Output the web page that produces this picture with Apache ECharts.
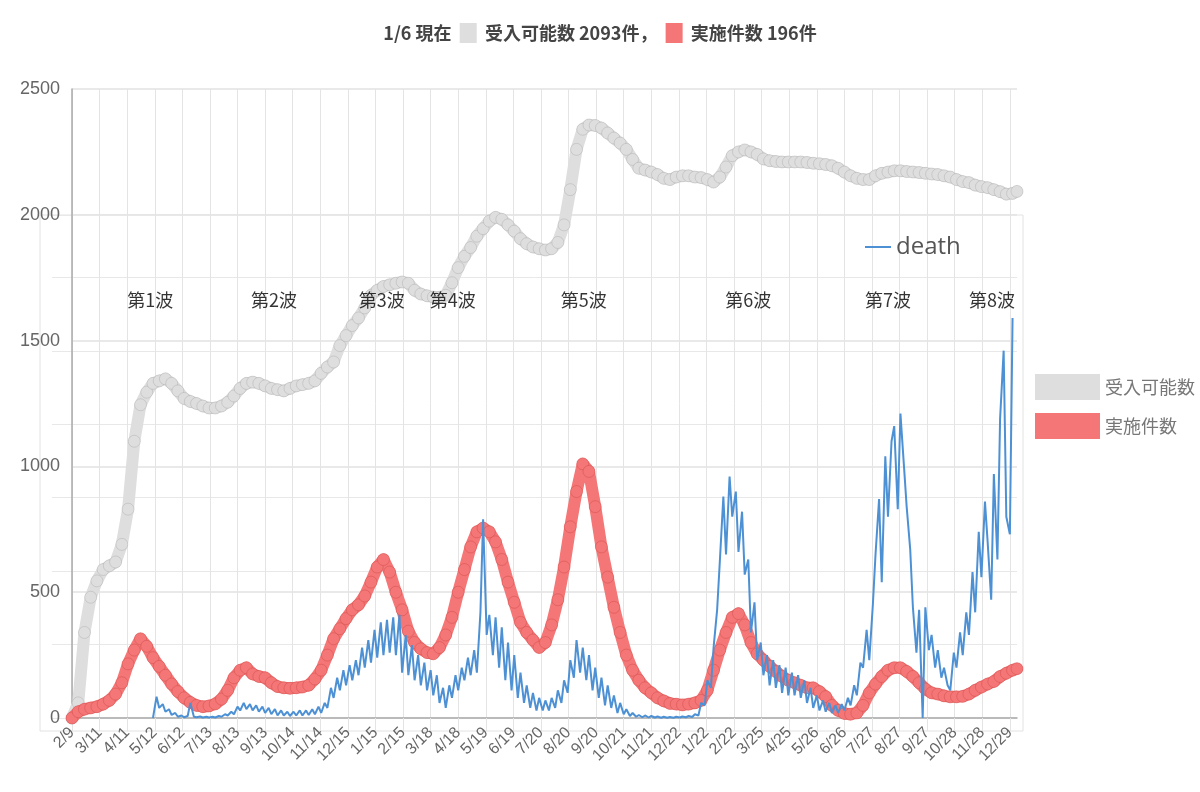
<!DOCTYPE html>
<html>
<head>
<meta charset="utf-8">
<script src="https://cdn.jsdelivr.net/npm/echarts@6/dist/echarts.min.js"></script>
<style>
  html, body { margin: 0; padding: 0; background: #fff; }
  #statistics { width: 1200px; height: 792px; }
</style>
</head>
<body>
<div id="statistics"></div>
<script>
// daily categories 2020/2/9 .. 2023/1/6
var dates = [];
var start = Date.UTC(2020, 1, 9);
for (var i = 0; i < 1063; i++) {
    var d = new Date(start + i * 86400000);
    dates.push((d.getUTCMonth() + 1) + '/' + d.getUTCDate());
}

// weekly samples (day index) for 受入可能数 / 実施件数
var weekDays = [];
for (var w = 0; w <= 1057; w += 7) weekDays.push(w);
weekDays.push(1062);

var ukeire = [
    0, 60, 340, 480, 545, 590, 605, 620, 690, 830,
    1100, 1245, 1295, 1330, 1340, 1348, 1330, 1300, 1270, 1258,
    1250, 1240, 1232, 1232, 1240, 1255, 1280, 1310, 1330, 1335,
    1330, 1320, 1310, 1305, 1300, 1310, 1320, 1325, 1330, 1340,
    1370, 1395, 1415, 1480, 1520, 1560, 1590, 1630, 1680, 1700,
    1715, 1722, 1728, 1733, 1728, 1700, 1685, 1678, 1673, 1672,
    1680, 1730, 1790, 1835, 1870, 1915, 1945, 1975, 1990, 1982,
    1960, 1935, 1905, 1885, 1872, 1865, 1860, 1865, 1890, 1960,
    2100, 2260, 2340, 2357, 2355, 2345, 2325, 2305, 2285, 2260,
    2220, 2185, 2178, 2170, 2160, 2145, 2140, 2150, 2155, 2155,
    2150, 2148, 2140, 2130, 2150, 2190, 2235, 2250, 2258, 2250,
    2240, 2222, 2215, 2212, 2210, 2210, 2210, 2210, 2208, 2205,
    2203, 2200, 2195, 2185, 2170, 2155, 2145, 2140, 2140, 2155,
    2165, 2170, 2175, 2175, 2172, 2170, 2168, 2165, 2162, 2160,
    2155, 2150, 2140, 2132, 2128, 2118, 2112, 2108, 2100, 2092,
    2082, 2085, 2093
];

var jisshi = [
    0, 25, 35, 40, 45, 55, 70, 95, 140, 215,
    270, 315, 285, 240, 205, 170, 135, 105, 80, 62,
    50, 45, 48, 56, 75, 110, 160, 190, 200, 175,
    165, 160, 140, 125, 120, 118, 120, 123, 130, 155,
    190, 250, 315, 355, 395, 430, 450, 485, 540, 600,
    630, 580, 500, 430, 345, 300, 275, 260, 255, 280,
    330, 400, 500, 590, 680, 740, 755, 740, 700, 630,
    540, 460, 380, 340, 310, 280, 300, 370, 470, 600,
    760, 900, 1010, 980, 840, 680, 560, 440, 340, 250,
    190, 150, 120, 100, 80, 68, 58, 55, 52, 55,
    60, 70, 110, 190, 270, 340, 400, 415, 370, 300,
    255, 230, 205, 185, 165, 150, 140, 130, 120, 120,
    105, 85, 50, 30, 18, 15, 20, 50, 100, 135,
    165, 190, 200, 200, 185, 165, 140, 115, 100, 95,
    88, 84, 84, 86, 95, 110, 123, 135, 145, 165,
    178, 190, 196
];

// death: two samples a week from 5/11/2020
var deathDays = [];
for (var k = 0; k < 277; k++) deathDays.push(91 + Math.round(3.5 * k));

var death = [
    0, 85, 40, 55, 25, 35, 12, 20, 5, 10,
    3, 8, 60, 5, 3, 6, 2, 5, 2, 5,
    2, 8, 5, 15, 10, 25, 15, 45, 30, 60,
    35, 55, 30, 50, 25, 45, 20, 40, 15, 35,
    10, 30, 10, 25, 8, 25, 10, 30, 10, 30,
    12, 35, 15, 45, 20, 60, 40, 120, 80, 160,
    110, 190, 130, 210, 150, 230, 170, 280, 200, 310,
    220, 350, 240, 380, 250, 390, 260, 400, 250, 410,
    180, 330, 170, 290, 150, 250, 130, 220, 110, 190,
    90, 170, 60, 120, 40, 130, 80, 170, 110, 200,
    150, 240, 170, 270, 180, 420, 790, 330, 410, 250,
    400, 200, 360, 150, 300, 110, 250, 80, 180, 60,
    130, 40, 100, 30, 80, 30, 70, 30, 80, 40,
    110, 60, 150, 100, 230, 160, 310, 180, 280, 150,
    250, 110, 200, 80, 160, 50, 130, 40, 90, 20,
    60, 15, 35, 8, 20, 5, 12, 3, 10, 2,
    8, 2, 6, 1, 5, 1, 4, 1, 5, 2,
    6, 3, 8, 4, 15, 10, 60, 50, 150, 120,
    280, 430, 620, 880, 650, 960, 800, 900, 660, 820,
    570, 630, 340, 460, 230, 300, 170, 250, 130, 230,
    120, 210, 100, 200, 90, 180, 90, 170, 80, 150,
    60, 120, 40, 90, 30, 70, 25, 60, 20, 50,
    20, 55, 30, 80, 50, 130, 90, 220, 200, 350,
    230, 450, 650, 870, 540, 1040, 800, 1100, 1160, 830,
    1210, 1000, 840, 670, 440, 260, 430, 0, 440, 270,
    330, 200, 270, 160, 200, 130, 110, 260, 200, 340,
    250, 420, 330, 580, 420, 740, 560, 860, 700, 470,
    970, 630, 1190, 1460, 800, 730, 1590
];

var waveNames = ['第1波', '第2波', '第3波', '第4波', '第5波', '第6波', '第7波', '第8波'];
var waveDays = [88, 227, 348, 428, 575, 760, 917, 1034];
var waveLevel = 1660;

function pairs(xs, ys) {
    var out = [];
    for (var i = 0; i < Math.min(xs.length, ys.length); i++) out.push([xs[i], ys[i]]);
    return out;
}

var myChart = echarts.init(document.getElementById('statistics'));

var option = {
    animation: false,
    backgroundColor: '#fff',
    title: {
        text: '1/6 現在  {g|}  受入可能数 ' + ukeire[ukeire.length - 1] + '件，  {r|}  実施件数 ' + jisshi[jisshi.length - 1] + '件',
        left: 'center',
        top: 18,
        textStyle: {
            fontSize: 18,
            fontWeight: 'bold',
            color: '#444',
            fontFamily: 'Noto Sans CJK JP',
            rich: {
                g: { width: 17, height: 20, backgroundColor: '#dedede' },
                r: { width: 17, height: 20, backgroundColor: '#f57676' }
            }
        }
    },
    legend: [
        {
            orient: 'vertical',
            left: 1030,
            top: 369,
            icon: 'rect',
            itemWidth: 65,
            itemHeight: 26,
            itemGap: 13,
            itemStyle: { borderWidth: 0 },
            textStyle: { fontSize: 18, color: '#777', fontFamily: 'Noto Sans CJK JP' },
            data: ['受入可能数', '実施件数']
        },
        {
            left: 860,
            top: 230,
            icon: 'rect',
            itemWidth: 26,
            itemHeight: 2,
            itemGap: 4,
            textStyle: { fontSize: 24, color: '#555', fontFamily: 'Open Sans' },
            data: ['death']
        }
    ],
    grid: [
        { left: 72, right: 183, top: 89, bottom: 74 },
        { left: 40, right: 177, top: 215, bottom: 61, show: true, borderColor: '#e2e2e2', borderWidth: 1 },
        { left: 52, right: 183, top: 215, bottom: 74 }
    ],
    xAxis: [
        {
            type: 'category',
            data: dates,
            boundaryGap: false,
            axisLine: { lineStyle: { color: '#aaa', width: 1.5 } },
            axisTick: { show: true, interval: 30, length: 13, lineStyle: { color: '#e4e4e4' } },
            axisLabel: {
                interval: 30,
                rotate: 45,
                fontSize: 16,
                color: '#666',
                margin: 12,
                fontFamily: 'Liberation Sans'
            },
            splitLine: { show: true, interval: 30, lineStyle: { color: '#e4e4e4' } }
        },
        { gridIndex: 1, type: 'value', show: false },
        { gridIndex: 2, type: 'value', show: false }
    ],
    yAxis: [
        {
            type: 'value',
            min: 0,
            max: 2500,
            interval: 500,
            axisLine: { show: true, lineStyle: { color: '#aaa', width: 1.5 } },
            axisTick: { show: false },
            axisLabel: {
                fontSize: 18,
                color: '#666',
                margin: 12,
                fontFamily: 'Liberation Sans',
                formatter: function (v) { return String(v); }
            },
            splitLine: { lineStyle: { color: '#e2e2e2', width: 1.5 } }
        },
        { gridIndex: 1, type: 'value', show: false },
        {
            gridIndex: 2,
            type: 'value',
            min: 0,
            max: 2000,
            interval: 292,
            axisLine: { show: false },
            axisTick: { show: false },
            axisLabel: { show: false },
            splitLine: { show: true, lineStyle: { color: '#e8e8e8' } }
        }
    ],
    series: [
        {
            name: '受入可能数',
            type: 'line',
            data: pairs(weekDays, ukeire),
            symbol: 'circle',
            symbolSize: 12,
            showAllSymbol: true,
            itemStyle: { color: '#dedede', borderColor: 'rgba(150,150,150,0.3)', borderWidth: 1 },
            lineStyle: { color: '#dedede', width: 12, cap: 'round', join: 'round' },
            z: 2
        },
        {
            name: '実施件数',
            type: 'line',
            data: pairs(weekDays, jisshi),
            symbol: 'circle',
            symbolSize: 12,
            showAllSymbol: true,
            itemStyle: { color: '#f57676', borderColor: 'rgba(200,70,70,0.4)', borderWidth: 1 },
            lineStyle: { color: '#f57676', width: 12, cap: 'round', join: 'round' },
            z: 3
        },
        {
            name: 'death',
            type: 'line',
            data: pairs(deathDays, death),
            showSymbol: false,
            itemStyle: { color: '#4d91d4' },
            lineStyle: { color: '#4d91d4', width: 2 },
            z: 4
        },
        {
            name: 'waves',
            type: 'scatter',
            silent: true,
            symbolSize: 1,
            itemStyle: { color: 'rgba(0,0,0,0)' },
            data: waveNames.map(function (n, i) { return { name: n, value: [waveDays[i], waveLevel] }; }),
            label: {
                show: true,
                position: 'inside',
                formatter: '{b}',
                fontSize: 18,
                color: '#000',
                fontFamily: 'Noto Sans CJK JP'
            },
            z: 5
        }
    ]
};

myChart.setOption(option);
</script>
</body>
</html>
